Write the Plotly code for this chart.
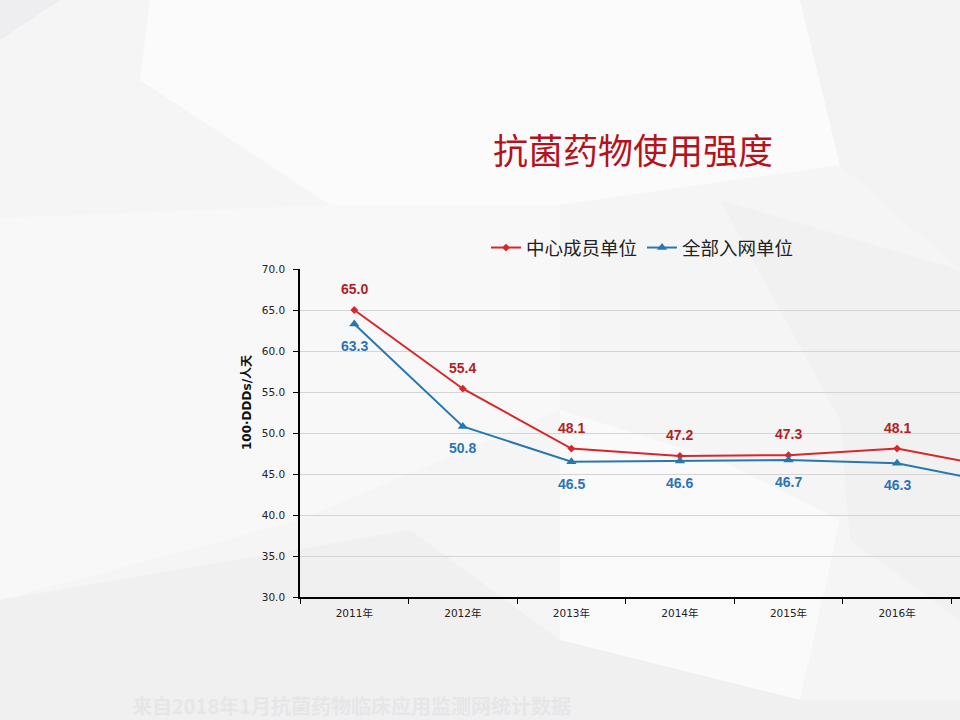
import plotly.graph_objects as go

years = ["2011年", "2012年", "2013年", "2014年", "2015年", "2016年", "2017年"]
center_units = [65.0, 55.4, 48.1, 47.2, 47.3, 48.1, 45.6]
all_units = [63.3, 50.8, 46.5, 46.6, 46.7, 46.3, 43.7]
series_names = ["中心成员单位", "全部入网单位"]
y_ticks = [30, 35, 40, 45, 50, 55, 60, 65, 70]

W, H = 960, 720
ML, MR, MT, MB = 300, 0, 269, 123
PW, PH = W - ML - MR, H - MT - MB

def px(x):
    return (x - ML) / PW

def py(y):
    return (H - MB - y) / PH

FONT = "Noto Sans CJK SC, Noto Sans, sans-serif"
LFONT = "Liberation Sans, Noto Sans CJK SC, sans-serif"
DFONT = "DejaVu Sans, Noto Sans CJK SC, sans-serif"
RED, RED_LBL = "#d9262a", "#b31f24"
BLUE, BLUE_LBL = "#2878b0", "#2e74b5"

fig = go.Figure()
fig.add_trace(go.Scatter(
    x=years, y=center_units, name=series_names[0], mode="lines+markers",
    line=dict(color=RED, width=2), marker=dict(symbol="diamond", size=6, color=RED),
))
fig.add_trace(go.Scatter(
    x=years, y=all_units, name=series_names[1], mode="lines+markers",
    line=dict(color=BLUE, width=2), marker=dict(symbol="triangle-up", size=9, color=BLUE),
))

annotations = []
for yr, v in zip(years, center_units):
    annotations.append(dict(x=yr, y=v, xref="x", yref="y", text=f"{v:.1f}", showarrow=False,
                            yshift=21, font=dict(family=LFONT, size=14, color=RED_LBL, weight="bold")))
for yr, v in zip(years, all_units):
    annotations.append(dict(x=yr, y=v, xref="x", yref="y", text=f"{v:.1f}", showarrow=False,
                            yshift=-22, font=dict(family=LFONT, size=14, color=BLUE_LBL, weight="bold")))

annotations.append(dict(x=px(633), y=py(148), xref="paper", yref="paper", text="抗菌药物使用强度",
                        showarrow=False, xanchor="center", yanchor="middle",
                        font=dict(family=FONT, size=35, color="#b5121b")))
annotations.append(dict(x=px(247), y=py(403), xref="paper", yref="paper", text="100·DDDs/人天",
                        showarrow=False, textangle=-90, xanchor="center", yanchor="middle",
                        font=dict(family=DFONT, size=12, color="#111111", weight="bold")))
annotations.append(dict(x=px(130), y=py(705), xref="paper", yref="paper",
                        text="来自2018年1月抗菌药物临床应用监测网统计数据",
                        showarrow=False, xanchor="left", yanchor="middle",
                        font=dict(family=FONT, size=20, color="#e6e6e8", weight="bold")))

def poly(points, color):
    d = "M " + " L ".join(f"{px(x):.4f},{py(y):.4f}" for x, y in points) + " Z"
    return dict(type="path", path=d, xref="paper", yref="paper", fillcolor=color,
                line=dict(width=0), layer="below")

shapes = [
    poly([(0, 0), (960, 0), (960, 720), (0, 720)], "#f5f5f6"),
    poly([(150, 0), (800, 0), (840, 165), (560, 205), (330, 205), (140, 80)], "#fbfbfc"),
    poly([(0, 0), (60, 0), (0, 40)], "#eeeef0"),
    poly([(800, 0), (960, 0), (960, 270), (840, 165)], "#f3f3f4"),
    poly([(0, 218), (330, 205), (560, 205), (560, 410), (300, 520), (0, 600)], "#f8f8f9"),
    poly([(560, 410), (720, 460), (840, 520), (800, 700), (560, 640)], "#fafafb"),
    poly([(0, 600), (410, 530), (560, 640), (800, 700), (960, 700), (960, 720), (0, 720)], "#f0f0f1"),
    poly([(720, 200), (960, 270), (960, 620), (850, 540), (840, 420)], "#f1f1f2"),
]

fig.update_layout(
    width=W, height=H,
    margin=dict(l=ML, r=MR, t=MT, b=MB, pad=0),
    paper_bgcolor="#f5f5f6", plot_bgcolor="rgba(0,0,0,0)",
    font=dict(family=FONT, color="#333333"),
    showlegend=True,
    legend=dict(orientation="h", x=px(486), y=py(248), xanchor="left", yanchor="middle",
                bgcolor="rgba(0,0,0,0)", font=dict(family=FONT, size=18.5, color="#222222"),
                itemwidth=30, tracegroupgap=0),
    xaxis=dict(type="category", categoryorder="array", categoryarray=years,
               range=[-0.5, 5.58], tickson="boundaries", ticks="outside", ticklen=5,
               tickcolor="#000000", showline=True, linecolor="#000000", linewidth=1.5,
               ticklabelstandoff=6,
               showgrid=False, zeroline=False, tickfont=dict(family=DFONT, size=10.5, color="#222222")),
    yaxis=dict(range=[30, 70], tickvals=y_ticks, ticktext=[f"{t:.1f}" for t in y_ticks],
               ticks="outside", ticklen=5, tickcolor="#000000", showline=True,
               linecolor="#000000", linewidth=1.5, showgrid=True, gridcolor="#d4d4d6",
               ticklabelstandoff=6,
               gridwidth=1, zeroline=False, tickfont=dict(family=DFONT, size=10.5, color="#222222")),
    annotations=annotations,
    shapes=shapes,
)

fig.write_html("out.html", config={"displayModeBar": False},
               post_script="document.body.style.margin='0';document.body.style.overflow='hidden';")
